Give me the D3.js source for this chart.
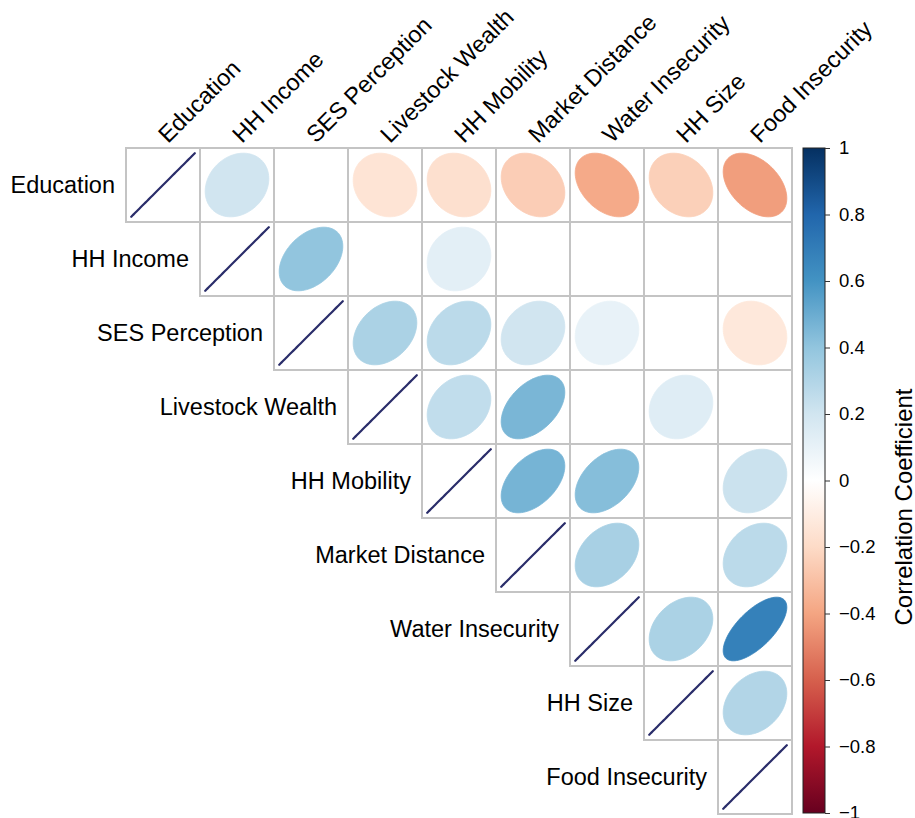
<!DOCTYPE html>
<html>
<head>
<meta charset="utf-8">
<script src="https://cdn.jsdelivr.net/npm/d3@7"></script>
<style>
  html, body { margin: 0; padding: 0; background: #fff; }
  svg { display: block; font-family: "Liberation Sans", Arial, Helvetica, sans-serif; }
</style>
</head>
<body>
<svg id="chart" width="915" height="818"></svg>
<script>
// ---- data ----
const variables = ["Education", "HH Income", "SES Perception", "Livestock Wealth",
  "HH Mobility", "Market Distance", "Water Insecurity", "HH Size", "Food Insecurity"];

// upper-triangle correlations per row (null = not significant / blank)
const corrEducation       = [1, 0.20, null, -0.15, -0.17, -0.25, -0.38, -0.24, -0.42];
const corrHHIncome        = [1, 0.40, null, 0.12, null, null, null, null];
const corrSESPerception   = [1, 0.32, 0.27, 0.20, 0.10, null, -0.13];
const corrLivestockWealth = [1, 0.25, 0.46, null, 0.14, null];
const corrHHMobility      = [1, 0.47, 0.43, null, 0.22];
const corrMarketDistance  = [1, 0.33, null, 0.27];
const corrWaterInsecurity = [1, 0.32, 0.68];
const corrHHSize          = [1, 0.30];
const corrFoodInsecurity  = [1];

const corrRows = [corrEducation, corrHHIncome, corrSESPerception, corrLivestockWealth,
  corrHHMobility, corrMarketDistance, corrWaterInsecurity, corrHHSize, corrFoodInsecurity];

const legendTicks = [1, 0.8, 0.6, 0.4, 0.2, 0, -0.2, -0.4, -0.6, -0.8, -1];
const rdbu = ["#67001F", "#B2182B", "#D6604D", "#F4A582", "#FDDBC7", "#FFFFFF",
  "#D1E5F0", "#92C5DE", "#4393C3", "#2166AC", "#053061"];
const legendTitle = "Correlation Coefficient";

// ---- layout ----
const svg = d3.select("#chart");
const n = variables.length;
const gridLeft = 126, gridTop = 148, cell = 74;

const x = d3.scaleBand().domain(variables).range([gridLeft, gridLeft + n * cell]).padding(0);
const y = d3.scaleBand().domain(variables).range([gridTop, gridTop + n * cell]).padding(0);

const colorScale = d3.scaleLinear()
  .domain(d3.range(rdbu.length).map(i => -1 + i * 0.2))
  .range(rdbu)
  .interpolate(d3.interpolateRgb);

// flatten cells
const cells = [];
corrRows.forEach((row, i) => {
  row.forEach((v, k) => {
    const j = i + k;
    cells.push({ row: variables[i], col: variables[j], i, j, r: v });
  });
});

// ellipse path (corrplot style)
function ellipsePath(r, size) {
  const d = Math.acos(Math.max(-1, Math.min(1, r)));
  const pts = d3.range(0, 100).map(t => {
    const k = t / 99 * 2 * Math.PI;
    const ex = Math.cos(k + d / 2) / 2 * 0.86 * size;
    const ey = -Math.cos(k - d / 2) / 2 * 0.86 * size;
    return [ex, ey];
  });
  return d3.line()(pts) + "Z";
}

const gCells = svg.append("g");

// cell backgrounds and grid
gCells.selectAll("rect.cell")
  .data(cells)
  .join("rect")
  .attr("class", "cell")
  .attr("x", d => x(d.col))
  .attr("y", d => y(d.row))
  .attr("width", x.bandwidth())
  .attr("height", y.bandwidth())
  .attr("fill", "#fff")
  .attr("stroke", "#c4c4c4")
  .attr("stroke-width", 2);

// ellipses
gCells.selectAll("path.ell")
  .data(cells.filter(d => d.r !== null))
  .join("path")
  .attr("class", "ell")
  .attr("transform", d => `translate(${x(d.col) + x.bandwidth() / 2},${y(d.row) + y.bandwidth() / 2})`)
  .attr("d", d => ellipsePath(d.r, cell))
  .attr("fill", d => colorScale(d.r))
  .attr("stroke", d => d.r === 1 ? "#2a2d6a" : colorScale(d.r))
  .attr("stroke-width", d => d.r === 1 ? 2.2 : 0.8)
  .attr("stroke-linejoin", "round");

// column labels (rotated)
svg.append("g").selectAll("text")
  .data(variables)
  .join("text")
  .attr("transform", d => `translate(${x(d) + x.bandwidth() / 2 + 5},${gridTop - 4}) rotate(-45)`)
  .attr("text-anchor", "start")
  .attr("font-size", 23.5)
  .attr("fill", "#000")
  .text(d => d);

// row labels
svg.append("g").selectAll("text")
  .data(variables)
  .join("text")
  .attr("x", (d, i) => gridLeft + i * cell - 11)
  .attr("y", d => y(d) + y.bandwidth() / 2 + 8)
  .attr("text-anchor", "end")
  .attr("font-size", 23.5)
  .attr("fill", "#000")
  .text(d => d);

// ---- color legend ----
const barX = 803, barW = 22, barTop = 148, barBottom = 813;
const legendScale = d3.scaleLinear().domain([-1, 1]).range([barBottom, barTop]);

const defs = svg.append("defs");
const grad = defs.append("linearGradient")
  .attr("id", "cbar")
  .attr("x1", 0).attr("y1", 1).attr("x2", 0).attr("y2", 0);
grad.selectAll("stop")
  .data(rdbu)
  .join("stop")
  .attr("offset", (d, i) => i / (rdbu.length - 1))
  .attr("stop-color", d => d);

svg.append("rect")
  .attr("x", barX)
  .attr("y", barTop)
  .attr("width", barW)
  .attr("height", barBottom - barTop)
  .attr("fill", "url(#cbar)")
  .attr("stroke", "#222")
  .attr("stroke-width", 1);

const fmt = v => (v < 0 ? "\u2212" : "") + d3.format("")(Math.abs(v));
const axis = d3.axisRight(legendScale)
  .tickValues(legendTicks)
  .tickSize(5)
  .tickPadding(9)
  .tickFormat(fmt);

const gAxis = svg.append("g")
  .attr("transform", `translate(${barX + barW},0)`)
  .call(axis);
gAxis.select(".domain").remove();
gAxis.selectAll(".tick line").attr("stroke", "#333");
gAxis.selectAll(".tick text")
  .attr("font-size", 18.5)
  .attr("font-family", "Liberation Sans, Arial, sans-serif")
  .attr("fill", "#000");

svg.append("text")
  .attr("transform", `translate(912,507) rotate(-90)`)
  .attr("text-anchor", "middle")
  .attr("font-size", 24)
  .attr("fill", "#000")
  .text(legendTitle);
</script>
</body>
</html>
